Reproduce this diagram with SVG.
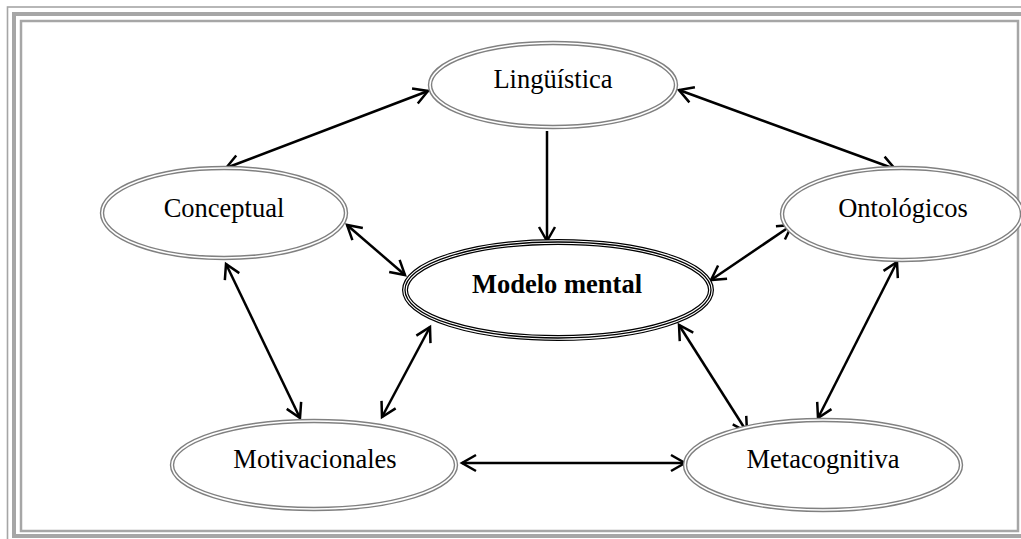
<svg xmlns="http://www.w3.org/2000/svg" width="1021" height="539" viewBox="0 0 1021 539">
  <style>
    .frame { fill: none; stroke: #a6a6a6; }
    .ring-out { fill: #ffffff; stroke: #808080; stroke-width: 4.4; }
    .ring-in { fill: none; stroke: #ffffff; stroke-width: 1.6; }
    .core-a { fill: #ffffff; stroke: #000000; stroke-width: 6; }
    .core-b { fill: none; stroke: #ffffff; stroke-width: 3.6; }
    .core-c { fill: none; stroke: #000000; stroke-width: 1.3; }
    .label { font-family: "Liberation Serif", "Times New Roman", serif; font-size: 26.5px; fill: #000000; text-anchor: middle; }
    .bold { font-weight: bold; }
    .link { fill: none; stroke: #000000; stroke-width: 2.5; marker-start: url(#head); marker-end: url(#head); }
    .one-way { marker-start: none; }
  </style>
  <defs>
    <marker id="head" viewBox="-18 -11 22 22" refX="0" refY="0" markerWidth="22" markerHeight="22" markerUnits="userSpaceOnUse" orient="auto-start-reverse">
      <path d="M-14,-8 L0,0 L-14,8" fill="none" stroke="#000000" stroke-width="2.5" stroke-linejoin="miter"/>
    </marker>
  </defs>

  <rect width="1021" height="539" fill="#ffffff"/>

  <!-- triple page frame -->
  <g id="frame">
    <rect class="frame" x="7.5" y="7" width="1040" height="550" stroke="#c4c4c4" stroke-width="1.6"/>
    <rect class="frame" x="14" y="14" width="1030" height="522" stroke-width="4"/>
    <rect class="frame" x="21" y="21" width="997" height="510" stroke-width="2.5"/>
  </g>

  <!-- connectors -->
  <g id="connectors">
    <line class="link" x1="226" y1="168" x2="428" y2="91"/>
    <line class="link" x1="679" y1="90" x2="895" y2="169"/>
    <line class="link one-way" x1="547" y1="131" x2="547" y2="241"/>
    <line class="link" x1="347" y1="225" x2="405" y2="275"/>
    <line class="link" x1="430" y1="327" x2="382" y2="417"/>
    <line class="link" x1="226" y1="264" x2="300" y2="418"/>
    <line class="link" x1="462" y1="463" x2="685" y2="463"/>
    <line class="link" x1="679" y1="325" x2="747" y2="432"/>
    <line class="link" x1="711" y1="280" x2="792" y2="225"/>
    <line class="link" x1="897" y1="262" x2="818" y2="418"/>
  </g>

  <!-- nodes -->
  <g id="node-linguistica">
    <ellipse class="ring-out" cx="553" cy="85" rx="123" ry="42"/>
    <ellipse class="ring-in" cx="553" cy="85" rx="123" ry="42"/>
    <text class="label" x="553" y="88">Lingüística</text>
  </g>
  <g id="node-conceptual">
    <ellipse class="ring-out" cx="224" cy="213" rx="122" ry="45"/>
    <ellipse class="ring-in" cx="224" cy="213" rx="122" ry="45"/>
    <text class="label" x="224" y="217">Conceptual</text>
  </g>
  <g id="node-ontologicos">
    <ellipse class="ring-out" cx="902" cy="214" rx="120" ry="46"/>
    <ellipse class="ring-in" cx="902" cy="214" rx="120" ry="46"/>
    <text class="label" x="903" y="217">Ontológicos</text>
  </g>
  <g id="node-modelo">
    <ellipse class="core-a" cx="558" cy="290" rx="153" ry="48"/>
    <ellipse class="core-b" cx="558" cy="290" rx="153" ry="48"/>
    <ellipse class="core-c" cx="558" cy="290" rx="153" ry="48"/>
    <text class="label bold" x="557" y="293">Modelo mental</text>
  </g>
  <g id="node-motivacionales">
    <ellipse class="ring-out" cx="314" cy="465" rx="142" ry="44"/>
    <ellipse class="ring-in" cx="314" cy="465" rx="142" ry="44"/>
    <text class="label" x="315" y="468">Motivacionales</text>
  </g>
  <g id="node-metacognitiva">
    <ellipse class="ring-out" cx="823" cy="465" rx="138" ry="45"/>
    <ellipse class="ring-in" cx="823" cy="465" rx="138" ry="45"/>
    <text class="label" x="823" y="468">Metacognitiva</text>
  </g>
</svg>
